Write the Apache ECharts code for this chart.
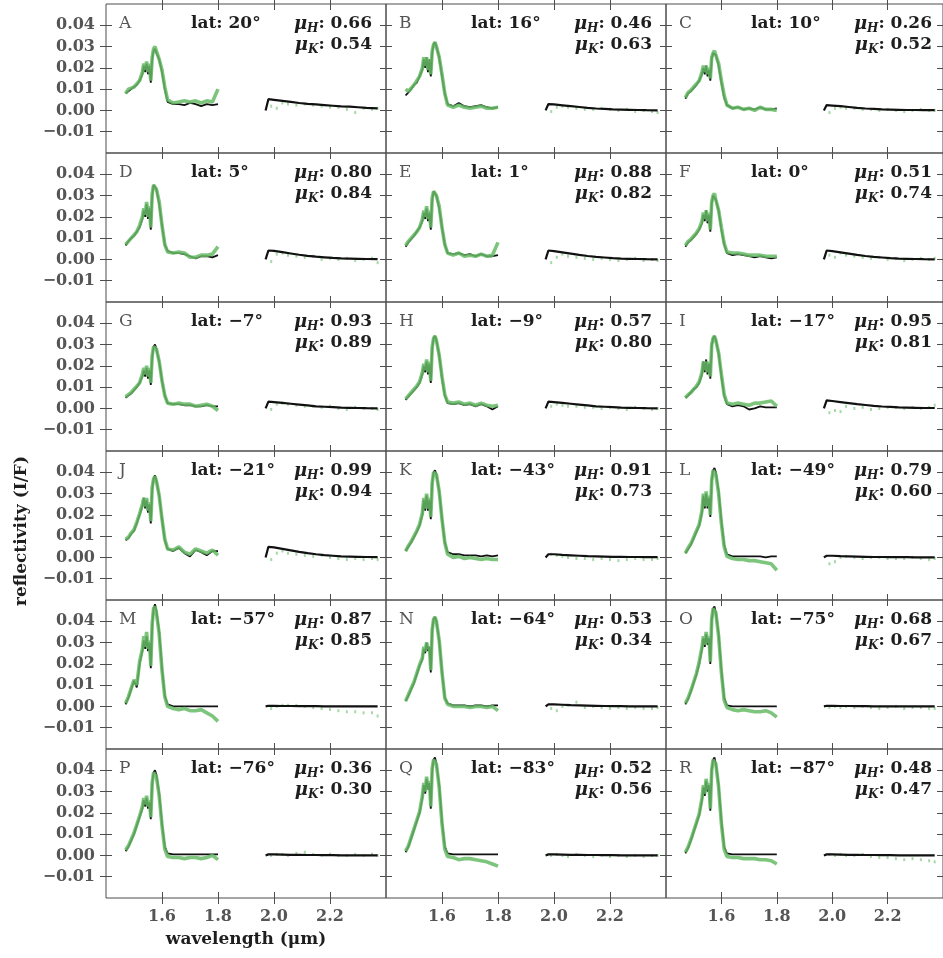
<!DOCTYPE html>
<html>
<head>
<meta charset="utf-8">
<script src="https://cdn.jsdelivr.net/npm/echarts@6/dist/echarts.min.js"></script>
<style>
  html, body { margin: 0; padding: 0; background: #fff; }
  #chart { width: 943px; height: 958px; }
</style>
</head>
<body>
<div id="chart"></div>
<script>
// ---- Spectra of 18 locations: H band (1.47-1.80 um) and K band (1.97-2.37 um) ----
// Reflectivity values are in units of 1e-3 I/F.

const panelLetters = ['A','B','C','D','E','F','G','H','I','J','K','L','M','N','O','P','Q','R'];
const latitudes = [20, 16, 10, 5, 1, 0, -7, -9, -17, -21, -43, -49, -57, -64, -75, -76, -83, -87];
const muH = ['0.66','0.46','0.26','0.80','0.88','0.51','0.93','0.57','0.95','0.99','0.91','0.79','0.87','0.53','0.68','0.36','0.52','0.48'];
const muK = ['0.54','0.63','0.52','0.84','0.82','0.74','0.89','0.80','0.81','0.94','0.73','0.60','0.85','0.34','0.67','0.30','0.56','0.47'];

const xTicks = [1.6, 1.8, 2.0, 2.2];
const yTicks = [-10, 0, 10, 20, 30, 40];

// wavelength grids (um)
const hWave = [1.47,1.48,1.49,1.50,1.51,1.52,1.53,1.535,1.54,1.545,1.55,1.555,1.56,1.565,1.57,
               1.575,1.58,1.59,1.60,1.61,1.62,1.64,1.66,1.68,1.70,1.72,1.74,1.76,1.78,1.80];
const kWave = [1.97,1.98,2.00,2.03,2.06,2.09,2.12,2.15,2.18,2.21,2.24,2.27,2.30,2.33,2.37];
const kDotWave = [1.99,2.01,2.03,2.05,2.08,2.11,2.14,2.17,2.20,2.23,2.26,2.29,2.32,2.35,2.37];

// model fits, H band
const hModel = [
  [8,9,10,11,12, 14,17,21,18,22, 17,21,13,24,28, 29,27,24,18,10, 4,3,3,2.5,3.5, 3,2,3,2.5,3],
  [7,8.5,10,12,13, 16,19,24,20,25, 18,24,16,27,31, 32,30,25,16,8, 3,2,3.5,2,1.5, 2,2.5,1.5,1,1.5],
  [5.5,8,9,10.5,12, 14,17,20,17,21, 16,19,14,24,27, 27.5,26,21,13,6, 2.5,1,1.5,0.5,1, 0.5,1.5,0.5,0.5,1],
  [6.5,8.5,10,11,13, 15,19,23,20,26, 19,24,14,30,35, 35.5,33,26,16,7, 4,3,3,2.5,1.5, 0.5,1.5,1.5,1,2],
  [6,8,9.5,11,13, 15,18,22,19,24, 18,22,14,28,32, 32.5,30,24,15,7, 3,2.5,3,2,2.5, 1.5,2.5,1.5,1.5,2],
  [6,8,9,10.5,12, 14,17,21,18,23, 17,21,13,26,30, 30.5,28,23,14,7, 3,2,2.5,2,1.5, 1,1.5,1,0.5,1],
  [5,6,7,8.5,10, 12,15,18,15,19, 14,18,11,24,29, 30,28,22,13,6, 2.5,2,2,1.5,1.5, 1,1,1.5,1,1],
  [4,5.5,7,8.5,10, 12,16,20,17,22, 16,21,12,28,33, 34,32,25,14,6, 2.5,2,2.5,1.5,2, 1,2,1,-0.5,1],
  [5,6,7.5,9,10, 12,16,22,17,23, 16,21,14,29,33, 34,32,26,15,6, 2,1,1.5,1,-0.5, 0,1,0.5,0.5,0.5],
  [8,9,11,12.5,16, 20,24,28,23,27, 21,25,16,32,37, 38.5,36,29,18,8, 4,3,4.5,2,0.5, 3.5,2.5,1,3,3],
  [3,5,7,9.5,12, 15,20,27,22,29, 22,27,18,35,40, 41,39,31,18,7, 2.5,1.5,1.5,1,1, 1,0.5,1,0.5,1],
  [2,4,6,9,12, 15,21,29,23,30, 23,28,19,36,41, 42,40,31,17,6, 1.5,0.5,0.5,0.5,0.5, 0.5,0.5,0,0.5,0.5],
  [1,4,8,12,9, 20,26,31,27,33, 26,30,18,38,46, 48,45,35,18,5, 1,0,0,0,0, 0,0,0,0,0],
  [2.5,5,8,11,15, 19,22,27,25,30, 26,28,16,36,41, 42,40,31,16,4, 1.5,0.5,0.5,0.5,0, 0.5,0.5,0,0.5,0.5],
  [1,3.5,7,11,15, 20,27,32,28,34, 29,32,20,40,46, 47,44,34,17,4, 0.5,0,0,0,0, 0,0,0,0,0],
  [2,4,7,10,14, 18,22,26,23,27, 22,25,17,34,39, 40,38,29,15,4, 1,0.5,0.5,0.5,0.5, 0.5,0.5,0.5,0.5,0.5],
  [1.5,4,8,12,16, 20,27,33,29,36, 31,34,22,40,45, 46,43,33,16,4, 1,0.5,0.5,0.5,0.5, 0.5,0.5,0.5,0.5,0.5],
  [1,3.5,7,11,15, 19,26,32,28,35, 30,33,21,40,45, 46,43,33,16,4, 1,0.5,0.5,0.5,0.5, 0.5,0.5,0.5,0.5,0.5]
];

// observed spectra, H band
const hData = [
  [8,10,10.5,11,12.5, 14,18,22,19,23, 18,22,14,25,29, 30,28,24,19,11, 5,3.5,4,4.5,4, 4.5,3.5,4.5,4,10],
  [10,9,10.5,12,14, 16,20,25,21,25, 19,24,17,28,31, 32,30,25,17,8, 2.5,1.5,2.5,1.5,1, 1.5,2,1,1,1.5],
  [6,8.5,9.5,11,12.5, 14,18,21,18,21, 17,20,15,25,27, 28,26,22,14,7, 2.5,1,1.5,0.5,1, 0,1.5,0.5,0.5,0],
  [7,8.5,10,11.5,13, 16,20,24,21,27, 20,25,15,31,35, 35,33,27,16,7, 3.5,3,3.5,3,1, 1,2,2,2.5,6],
  [6.5,8.5,10,11.5,13, 15,19,23,20,25, 19,23,15,29,32, 32,30,25,15,7, 3,2,3,1.5,2, 1.5,2.5,1.5,2,8],
  [6.5,8.5,9.5,11,12.5, 14.5,18,22,19,23, 18,22,14,27,30, 31,28,23,15,7.5, 3.5,3,3,2.5,2, 2,2,1.5,1.5,1.5],
  [5.5,6.5,7.5,9,10.5, 12,16,19,16,20, 15,19,12,25,29, 29.5,28,22,13,6, 2.5,2,2.5,2,2, 1,1.5,2,1,-1],
  [4.5,6,7.5,9,10.5, 12.5,17,21,18,23, 17,22,13,29,33, 34,32,25,15,6.5, 3,2.5,3,2,2.5, 1.5,2.5,1.5,1,1.5],
  [5,6.5,7.5,9,10.5, 12.5,17,22,18,22, 17,22,15,30,33, 34,32,26,16,6.5, 2.5,2,2.5,2,1.5, 2.5,2.5,3,3.5,1],
  [8.5,9.5,11.5,13,16.5, 20.5,25,28,24,28, 22,26,17,33,37, 38,36,29,18,8.5, 4,3.5,5,2.5,1.5, 4,3,2,3.5,1],
  [3,5.5,7.5,10,12.5, 15.5,21,28,23,30, 23,28,19,35,40, 40.5,39,31,18,7, 1.5,0,0.5,-0.5,0, -0.5,-1,-0.5,-1,-1],
  [2,4.5,6.5,9.5,12.5, 15.5,22,30,24,31, 24,29,20,36,41, 41.5,39,30,16,5, 0.5,-0.5,-1,-1,-1.5, -1.5,-2,-2.5,-3,-6],
  [1.5,4.5,8.5,12.5,10, 21,27,33,28,35, 27,31,19,39,46, 47,44,34,17,4.5, 0,-1,-1.5,-1,-2, -2,-1.5,-3,-4.5,-7],
  [2.5,5.5,8.5,11.5,15.5, 19.5,23,28,26,30, 27,28,17,36,41, 42,40,31,16,4, 1,0,0,0,-0.5, 0,0,-0.5,0,-2],
  [1.5,4,7.5,11.5,15.5, 21,28,33,29,35, 30,33,21,41,46, 46.5,44,33,16,3, -0.5,-1.5,-2,-1.5,-2, -2.5,-2.5,-2,-3,-5],
  [2.5,4.5,7.5,10.5,14.5, 18.5,23,27,24,28, 23,26,18,34,39, 39.5,37,28,14,3, -0.5,-1,-1,-1.5,-1, -1,-1.5,-1,0,-2],
  [2,4.5,8.5,12.5,16.5, 20.5,28,34,30,37, 31,35,23,41,45, 45.5,43,32,15,3, -0.5,-1,-2,-1.5,-1.5, -2,-2.5,-3,-4,-5],
  [1.5,4,7.5,11.5,15.5, 19.5,27,33,29,36, 31,34,22,40,45, 45.5,43,32,15,3, -0.5,-1,-1,-1.5,-1.5, -1.5,-2,-2,-2.5,-4]
];

// model fits, K band
const kModel = [
  [0,5.3,5,4.5,4, 3.5,3.1,2.8,2.5,2.2, 1.9,1.8,1.5,1.2,1],
  [0,3,2.8,2.4,2, 1.6,1.2,0.9,0.7,0.5, 0.4,0.3,0.2,0.1,0],
  [0,2.5,2.3,2,1.6, 1.2,0.9,0.7,0.5,0.4, 0.3,0.2,0.2,0.1,0.1],
  [0,4.2,4,3.4,2.8, 2.2,1.7,1.3,1,0.7, 0.5,0.4,0.3,0.2,0.1],
  [0,4.2,3.9,3.3,2.7, 2.1,1.6,1.2,0.9,0.6, 0.4,0.3,0.2,0.1,0],
  [0,4.2,3.9,3.3,2.7, 2.1,1.6,1.2,0.9,0.6, 0.4,0.3,0.2,0.1,0],
  [0,3.2,3,2.6,2.2, 1.8,1.4,1,0.8,0.6, 0.4,0.3,0.2,0.1,0],
  [0,3.2,3,2.6,2.2, 1.8,1.4,1,0.8,0.6, 0.4,0.3,0.2,0.1,0],
  [0,3.8,3.5,3,2.5, 2,1.6,1.2,0.9,0.7, 0.5,0.4,0.3,0.2,0.2],
  [0,5,4.7,4,3.3, 2.6,2,1.5,1.1,0.8, 0.5,0.4,0.3,0.2,0.1],
  [0,1.5,1.5,1.2,1, 0.8,0.6,0.5,0.4,0.3, 0.3,0.2,0.2,0.1,0.1],
  [0,0.8,0.8,0.6,0.5, 0.4,0.3,0.2,0.2,0.1, 0.1,0.1,0,0,0],
  [0,0.3,0.3,0.2,0.2, 0.1,0.1,0.1,0,0, 0,0,0,0,0],
  [0,1,1,0.8,0.6, 0.5,0.4,0.3,0.2,0.1, 0.1,0,0,0,0],
  [0,0.3,0.3,0.2,0.2, 0.1,0.1,0,0,0, 0,0,0,0,0],
  [0,0.5,0.5,0.4,0.3, 0.3,0.2,0.2,0.1,0.1, 0,0,0,0,0],
  [0,0.5,0.5,0.4,0.3, 0.3,0.2,0.2,0.1,0.1, 0,0,0,0,0],
  [0,0.5,0.5,0.4,0.3, 0.3,0.2,0.2,0.1,0.1, 0,0,0,0,0]
];

// observed points, K band
const kData = [
  [2,1,3.5,3,2.5, 3,2.5,2,1.5,1.5, 0.5,-1,1,0.5,1],
  [-0.5,1.5,2,1.5,1, 0.5,0.5,1,0.5,0, 0.5,-0.5,0,-0.5,-1],
  [-1,1,1.5,1,1, 0.5,0.5,0,0.5,0, -0.5,0,0.5,0,0],
  [-1,2.5,3,2,1.5, 1,1.5,0,0.5,0, 0.5,-0.5,0,0.5,-1.5],
  [-1.5,1,2.5,1.5,1, 0.5,0,0.5,0,-0.5, 0,0.5,-0.5,0,-0.5],
  [2,1,3,2,1.5, 1,0.5,1,0,0.5, -0.5,0,0.5,0,0.5],
  [-0.5,2,2.5,2,1.5, 1,1,0.5,1,0, -0.5,0.5,0,0,-0.5],
  [1,2,1.5,1,1, 0.5,0.5,0,0.5,0, -0.5,0.5,0,-0.5,0],
  [-2,-1,-1.5,1,0, 0.5,-0.5,0,0.5,0.5, 0,0.5,0,0.5,1.5],
  [-1,2,3,2,1.5, 1,0.5,1,0,-0.5, -1,-0.5,-1,-0.5,-1],
  [1.5,1,0.5,0,-0.5, -0.5,-1,-0.5,-1,-1.5, -1,-0.5,-1,-1,-0.5],
  [-3,-2,0,0.5,0, -0.5,0,0,-0.5,-0.5, -0.5,0,-0.5,-1,-0.5],
  [-1,0,0.5,0.5,0.5, 0,-0.5,-1,-1.5,-2, -2.5,-2.5,-3,-3,-4.5],
  [-1,-2,0,0.5,2, -0.5,0,-0.5,-1,-0.5, -1,-0.5,-1,-1,-0.5],
  [-0.5,0,-0.5,0,-0.5, 0,-0.5,-1,-0.5,0, -1,-0.5,-0.5,-1,-1],
  [0,0.5,0.5,0,1, 1.5,0.5,0,0.5,0, 0,0.5,0,0.5,0],
  [0,0.5,0,-0.5,0.5, 0,-0.5,0,-0.5,0, -0.5,0,-0.5,0,0],
  [0.5,0,0.5,0,0, 0.5,-0.5,-1,-1,-1.5, -2,-1.5,-2,-2.5,-3]
];

// ---- layout ----
const PANEL_W = 280, PANEL_H = 149, LEFT0 = 106, TOP0 = 4;
const FRAME = '#4d4d4d';
const SERIF = '"DejaVu Serif", "Liberation Serif", serif';
const TICK_LABEL = '#555555';
const TEXT_DARK = '#1e1e1e';

const fmtY = v => {
  const s = (Math.abs(v) / 1000).toFixed(2);
  return v < 0 ? '\u2212' + s : s;
};
const fmtLat = v => 'lat: ' + (v < 0 ? '\u2212' + Math.abs(v) : String(v)) + '\u00B0';

const grids = [], xAxes = [], yAxes = [], series = [], graphics = [];

for (let i = 0; i < panelLetters.length; i++) {
  const r = Math.floor(i / 3), c = i % 3;
  const left = LEFT0 + PANEL_W * c, top = TOP0 + PANEL_H * r;

  grids.push({ left, top, width: PANEL_W, height: PANEL_H, show: true,
               borderColor: FRAME, borderWidth: 1, backgroundColor: 'transparent' });

  // ticks straddle the frame: the axis sits 6px outside and its ticks point 12px inwards
  const tick = vals => ({ show: true, inside: true, length: 12, customValues: vals,
                          lineStyle: { color: FRAME, width: 1 } });

  ['bottom', 'top'].forEach(pos => {
    xAxes.push({
      type: 'value', gridIndex: i, position: pos, offset: 6,
      min: 1.4, max: 2.4, interval: 0.2,
      axisLine: { show: false, onZero: false }, splitLine: { show: false },
      axisTick: tick(xTicks),
      axisLabel: {
        show: pos === 'bottom' && r === 5, customValues: xTicks,
        formatter: v => v.toFixed(1), margin: 5,
        color: TICK_LABEL, fontFamily: SERIF, fontWeight: 'bold', fontSize: 16
      }
    });
  });
  ['left', 'right'].forEach(pos => {
    yAxes.push({
      type: 'value', gridIndex: i, position: pos, offset: 6,
      min: -20, max: 50, interval: 10,
      axisLine: { show: false, onZero: false }, splitLine: { show: false },
      axisTick: tick(yTicks),
      axisLabel: {
        show: pos === 'left' && c === 0, customValues: yTicks,
        formatter: fmtY, margin: 5,
        color: TICK_LABEL, fontFamily: SERIF, fontWeight: 'bold', fontSize: 16
      }
    });
  });

  const xi = 2 * i, yi = 2 * i;
  series.push({
    type: 'line', xAxisIndex: xi, yAxisIndex: yi, symbol: 'none', silent: true, z: 2,
    data: hWave.map((w, j) => [w, hModel[i][j]]),
    lineStyle: { color: '#111111', width: 1.8 }
  });
  series.push({
    type: 'line', xAxisIndex: xi, yAxisIndex: yi, symbol: 'none', silent: true, z: 3,
    data: hWave.map((w, j) => [w, hData[i][j]]),
    lineStyle: { color: '#66bb66', width: 3.6, opacity: 0.85 }
  });
  series.push({
    type: 'scatter', xAxisIndex: xi, yAxisIndex: yi, silent: true, z: 2,
    symbol: 'rect', symbolSize: [2, 3],
    data: kDotWave.map((w, j) => [w, kData[i][j]]),
    itemStyle: { color: '#8fcf8f', opacity: 0.8 }
  });
  series.push({
    type: 'line', xAxisIndex: xi, yAxisIndex: yi, symbol: 'none', silent: true, z: 4,
    data: kWave.map((w, j) => [w, kModel[i][j]]),
    lineStyle: { color: '#111111', width: 2.2 }
  });

  // panel annotations
  graphics.push({
    type: 'text', x: left + 13, y: top + 20, silent: true,
    style: { text: panelLetters[i], fill: '#555555', font: `17px ${SERIF}`,
             textAlign: 'left', textVerticalAlign: 'middle' }
  });
  graphics.push({
    type: 'text', x: left + 85, y: top + 20, silent: true,
    style: { text: fmtLat(latitudes[i]), fill: TEXT_DARK, font: `bold 17px ${SERIF}`,
             textAlign: 'left', textVerticalAlign: 'middle' }
  });
  const muRich = {
    mu:  { fill: TEXT_DARK, fontFamily: SERIF, fontWeight: 'bold', fontStyle: 'italic', fontSize: 18, lineHeight: 22, verticalAlign: 'middle' },
    sub: { fill: TEXT_DARK, fontFamily: SERIF, fontWeight: 'bold', fontStyle: 'italic', fontSize: 12, lineHeight: 12, verticalAlign: 'bottom' },
    val: { fill: TEXT_DARK, fontFamily: SERIF, fontWeight: 'bold', fontSize: 17, lineHeight: 22, verticalAlign: 'middle' }
  };
  [['H', muH[i], 20], ['K', muK[i], 41]].forEach(([band, val, dy]) => {
    graphics.push({
      type: 'text', x: left + 266, y: top + dy, silent: true,
      style: { text: `{mu|\u03BC}{sub|${band}}{val|: ${val}}`, rich: muRich,
               textAlign: 'right', textVerticalAlign: 'middle' }
    });
  });
}

// figure-level axis titles
graphics.push({
  type: 'text', x: 22, y: 531, rotation: Math.PI / 2, silent: true,
  style: { text: 'reflectivity (I/F)', fill: TEXT_DARK, font: `bold 17px ${SERIF}`,
           textAlign: 'center', textVerticalAlign: 'middle' }
});
graphics.push({
  type: 'text', x: 246, y: 940, silent: true,
  style: { text: 'wavelength (\u03BCm)', fill: TEXT_DARK, font: `bold 17px ${SERIF}`,
           textAlign: 'center', textVerticalAlign: 'middle' }
});

const chart = echarts.init(document.getElementById('chart'), null, { renderer: 'canvas' });
chart.setOption({
  animation: false,
  backgroundColor: '#ffffff',
  grid: grids,
  xAxis: xAxes,
  yAxis: yAxes,
  series: series,
  graphic: graphics
});
</script>
</body>
</html>
